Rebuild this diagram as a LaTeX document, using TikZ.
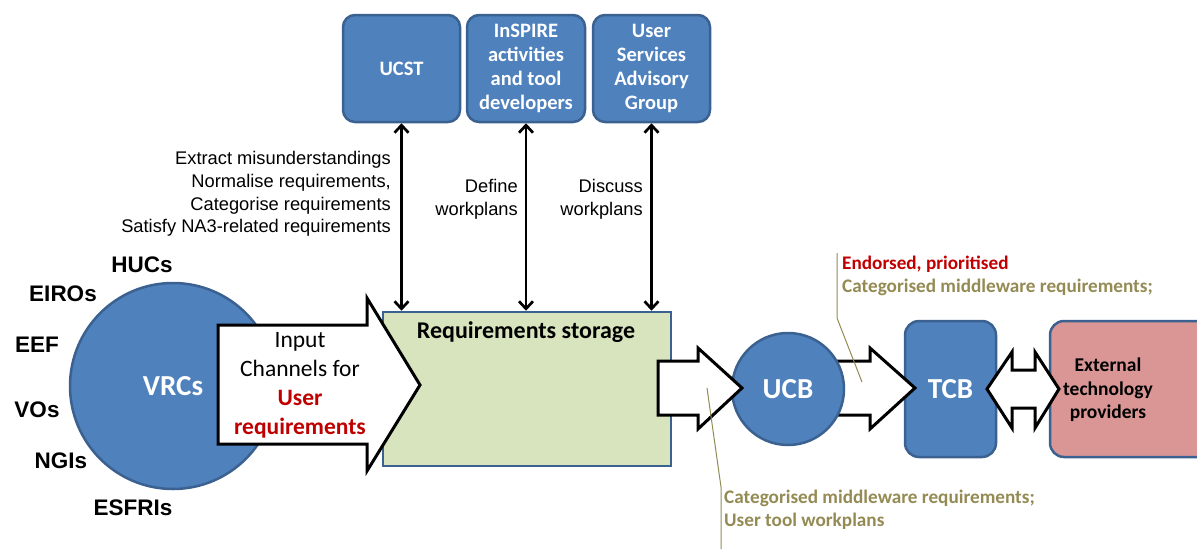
\documentclass[tikz,border=0pt]{standalone}
\usepackage{fontspec}
\setmainfont{Carlito}
\newfontfamily\arialf{Liberation Sans}
\usetikzlibrary{arrows.meta}
\definecolor{mblue}{HTML}{4F81BD}
\definecolor{bblue}{HTML}{3A6190}
\definecolor{sgreen}{HTML}{D7E4BD}
\definecolor{epink}{HTML}{D99694}
\definecolor{dred}{HTML}{C00000}
\definecolor{olivec}{HTML}{948A54}
\begin{document}
\begin{tikzpicture}[x=1pt,y=-1pt,
 bluebox/.style={draw=bblue, fill=mblue, line width=2.5pt, rounded corners=12pt, text=white,
   font=\bfseries\fontsize{20.5}{24}\selectfont, align=center, inner sep=0pt},
 fatarrow/.style={draw=black, fill=white, line width=3pt, line join=miter},
 dar/.style={line width=2.7pt, {Straight Barb[length=7.5pt,width=14pt]}-{Straight Barb[length=7.5pt,width=14pt]}},
 lbl/.style={font=\arialf\fontsize{18.3}{22.7}\selectfont, align=right, anchor=east, inner sep=0pt},
 grp/.style={font=\arialf\bfseries\fontsize{22.5}{26}\selectfont, inner sep=0pt},
 olbl/.style={font=\bfseries\fontsize{19.2}{23}\selectfont, text=olivec, anchor=west, inner sep=0pt, align=left},
 leader/.style={draw=olivec, line width=1pt}]

\useasboundingbox (0,0) rectangle (1197,549);

% top boxes
\node[bluebox, minimum width=117pt, minimum height=107pt] (ucst) at (401.5,68.5) {UCST};
\node[bluebox, minimum width=118pt, minimum height=107pt] (inspire) at (526,68.5) {InSPIRE\\activities\\and tool\\developers};
\node[bluebox, minimum width=117pt, minimum height=107pt] (usag) at (651.5,68.5) {User\\Services\\Advisory\\Group};

% storage
\node[draw=bblue, fill=sgreen, line width=2.5pt, minimum width=288pt, minimum height=154pt, inner sep=0pt] (storage) at (527,389) {};
\node[font=\bfseries\fontsize{24}{28}\selectfont, inner sep=0pt] (stitle) at (526,332) {Requirements storage};

% vertical arrows
\draw[dar] (ucst.south) -- (ucst.south |- storage.north);
\draw[dar] (inspire.south) -- (inspire.south |- storage.north);
\draw[dar] (usag.south) -- (usag.south |- storage.north);

% labels of vertical arrows
\node[lbl] (tasks) at (391,194) {Extract misunderstandings\\Normalise requirements,\\Categorise requirements\\Satisfy NA3-related requirements};
\node[lbl] (define) at (518,199) {Define\\workplans};
\node[lbl] (discuss) at (643,199) {Discuss\\workplans};

% VRCs
\node[circle, draw=bblue, fill=mblue, line width=2.5pt, minimum size=206pt, inner sep=0pt,
  text=white, font=\bfseries\fontsize{29}{32}\selectfont] (vrc) at (173,386) {VRCs};

\node[grp] (hucs) at (142,265) {HUCs};
\node[grp] (eiros) at (63,294) {EIROs};
\node[grp] (eef) at (37,345) {EEF};
\node[grp] (vos) at (37,410) {VOs};
\node[grp] (ngis) at (61,461) {NGIs};
\node[grp] (esfris) at (133,508) {ESFRIs};

% input arrow
\draw[fatarrow] (218,325) -- (367,325) -- (367,298) -- (420,385) -- (367,471) -- (367,444) -- (218,444) -- cycle;
\node[font=\fontsize{23.5}{29}\selectfont, align=center, inner sep=0pt] (inp) at (300,385)
  {Input\\Channels for\\\textcolor{dred}{\bfseries User}\\\textcolor{dred}{\bfseries requirements}};

% TCB and external
\node[bluebox, rounded corners=14pt, minimum width=91pt, minimum height=136pt,
  font=\bfseries\fontsize{29}{32}\selectfont] (tcb) at (950.5,389) {TCB};
\node[draw=bblue, fill=epink, line width=2.5pt, rounded corners=14pt, minimum width=165pt, minimum height=136pt, inner sep=0pt] (ext) at (1132.5,389) {};
\node[font=\bfseries\fontsize{19.5}{23.5}\selectfont, align=center, inner sep=0pt] (extt) at (1108,390) {External\\technology\\providers};

% UCB -> TCB arrow (under UCB)
\draw[fatarrow] (830,361) -- (870,361) -- (870,348) -- (915,388) -- (870,429) -- (870,415) -- (830,415) -- cycle;

% UCB
\node[circle, draw=bblue, fill=mblue, line width=2.5pt, minimum size=112pt, inner sep=0pt,
  text=white, font=\bfseries\fontsize{29}{32}\selectfont] (ucb) at (788,389) {UCB};

% storage -> UCB arrow
\draw[fatarrow] (658,361) -- (698,361) -- (698,348) -- (742,388) -- (698,429) -- (698,415) -- (658,415) -- cycle;

% double arrow TCB <-> external
\draw[fatarrow] (987,389) -- (1012,352) -- (1012,370) -- (1035,370) -- (1035,352) -- (1059,389)
  -- (1035,428) -- (1035,408) -- (1012,408) -- (1012,428) -- cycle;

% leader lines and labels
\coordinate (la1) at (837,253);
\coordinate (la2) at (837,318);
\coordinate (la3) at (862,382);
\draw[leader] (la1) -- (la2) -- (la3);
\coordinate (lb1) at (707,388);
\coordinate (lb2) at (721,487);
\coordinate (lb3) at (721,549);
\draw[leader] (lb1) -- (lb2) -- (lb3);

\node[olbl] (endo) at (842,276) {\textcolor{dred}{Endorsed, prioritised}\\Categorised middleware requirements;};
\node[olbl] (catb) at (724,510) {Categorised middleware requirements;\\User tool workplans};

\end{tikzpicture}
\end{document}
